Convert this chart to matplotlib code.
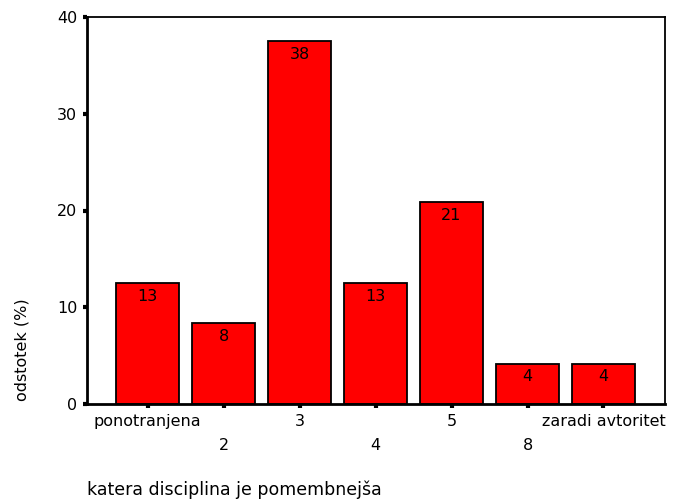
import matplotlib.pyplot as plt
import numpy as np

plt.rcParams['font.family'] = ['DejaVu Sans']

# percentages per category (n = 24)
categories = ["ponotranjena", "2", "3", "4", "5", "8", "zaradi avtoritet"]
percent = [12.5, 8.33, 37.5, 12.5, 20.83, 4.17, 4.17]
labels = ["13", "8", "38", "13", "21", "4", "4"]

fig = plt.figure(figsize=(6.78, 5), dpi=100)
ax = fig.add_axes([0.1283, 0.192, 0.8525, 0.774])

x = np.arange(len(categories))
bars = ax.bar(x, percent, width=0.83, color="#ff0000", edgecolor="black", linewidth=1.3)

for rect, lab in zip(bars, labels):
    ax.annotate(lab, (rect.get_x() + rect.get_width() / 2, rect.get_height()),
                xytext=(0, -4), textcoords="offset points",
                ha="center", va="top", fontsize=11.5)

ax.set_xlim(-0.8, 6.81)
ax.set_ylim(0, 40)
ax.set_yticks([0, 10, 20, 30, 40])
ax.set_xticks(x)
ax.set_xticklabels(categories, fontsize=11.5)
for i, t in enumerate(ax.get_xticklabels()):
    if i % 2 == 1:
        t.set_y(-0.062)
ax.tick_params(axis="y", labelsize=11.5, length=3, width=3, direction="out", pad=4)
ax.tick_params(axis="x", length=3, width=3, direction="out", pad=4)

for s in ["left", "bottom"]:
    ax.spines[s].set_linewidth(2)
for s in ["top", "right"]:
    ax.spines[s].set_linewidth(1.3)

ax.set_xlabel("katera disciplina je pomembnejša", fontsize=12.5, ha="left", va="center")
ax.xaxis.set_label_coords(0.0, -0.222)
ax.set_ylabel("odstotek (%)", fontsize=11.5, va="center")
ax.yaxis.set_label_coords(-0.112, 0.14)

fig.savefig("out.png", dpi=100)
